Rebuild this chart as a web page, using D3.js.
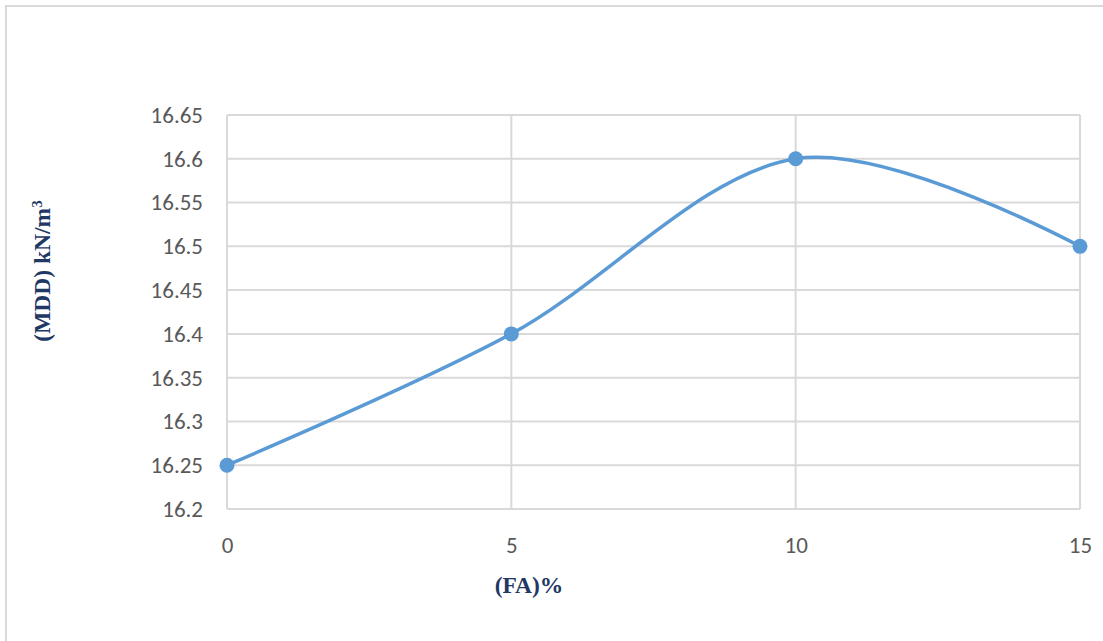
<!DOCTYPE html>
<html><head><meta charset="utf-8">
<script src="https://cdn.jsdelivr.net/npm/d3@7"></script>
<style>body{margin:0;background:#fff;}svg{display:block;}</style>
</head><body>
<svg id="c" width="1103" height="641"></svg>
<script>
const faPercent = [0, 5, 10, 15];
const mddValues = [16.25, 16.4, 16.6, 16.5];
const xTicks = [0, 5, 10, 15];
const yTicks = [16.2, 16.25, 16.3, 16.35, 16.4, 16.45, 16.5, 16.55, 16.6, 16.65];
const xTitle = "(FA)%";
const yTitle = "(MDD) kN/m";

const svg = d3.select("#c");
svg.append("rect").attr("x",6).attr("y",6).attr("width",1200).attr("height",700)
  .attr("fill","#fff").attr("stroke","#d9d9d9").attr("stroke-width",2);

const x = d3.scaleLinear().domain([0,15]).range([227,1080]);
const y = d3.scaleLinear().domain([16.2,16.65]).range([509,115]);

const g = svg.append("g");
g.selectAll(".hg").data(yTicks).join("line")
  .attr("x1",x(0)).attr("x2",x(15)).attr("y1",d=>y(d)).attr("y2",d=>y(d))
  .attr("stroke","#d9d9d9").attr("stroke-width",2);
g.selectAll(".vg").data(xTicks).join("line")
  .attr("x1",d=>x(d)).attr("x2",d=>x(d)).attr("y1",y(16.2)).attr("y2",y(16.65))
  .attr("stroke","#d9d9d9").attr("stroke-width",2);

const tickFont = "Carlito, 'Open Sans', sans-serif";
const yAxis = d3.axisLeft(y).tickValues(yTicks).tickSize(0).tickPadding(24).tickFormat(d=>String(+d.toFixed(2)));
const ya = svg.append("g").attr("transform",`translate(${x(0)},0)`).call(yAxis);
ya.select(".domain").remove();
ya.attr("font-family",tickFont).attr("font-size",23);
ya.selectAll("text").attr("fill","#595959");

const xAxis = d3.axisBottom(x).tickValues(xTicks).tickSize(0).tickPadding(28).tickFormat(d3.format("d"));
const xa = svg.append("g").attr("transform",`translate(0,${y(16.2)})`).call(xAxis);
xa.select(".domain").remove();
xa.attr("font-family",tickFont).attr("font-size",23);
xa.selectAll("text").attr("fill","#595959");

const pts = faPercent.map((v,i)=>[v,mddValues[i]]);
const line = d3.line().x(d=>x(d[0])).y(d=>y(d[1])).curve(d3.curveCardinal.tension(0));
svg.append("path").attr("d",line(pts)).attr("fill","none").attr("stroke","#5b9bd5").attr("stroke-width",3.5);
svg.selectAll(".pt").data(pts).join("circle")
  .attr("cx",d=>x(d[0])).attr("cy",d=>y(d[1])).attr("r",7.5).attr("fill","#5b9bd5");

svg.append("text").attr("x",529).attr("y",593).attr("text-anchor","middle")
  .attr("font-family","'Liberation Serif', serif").attr("font-weight","bold").attr("font-size",23.5)
  .attr("fill","#1f3864").text(xTitle);

const yt = svg.append("text").attr("transform","translate(50,271) rotate(-90)").attr("text-anchor","middle")
  .attr("font-family","'Liberation Serif', serif").attr("font-weight","bold").attr("font-size",23.5)
  .attr("fill","#1f3864");
yt.append("tspan").text(yTitle);
yt.append("tspan").attr("baseline-shift","super").attr("font-size",15).text("3");
</script>
</body></html>
